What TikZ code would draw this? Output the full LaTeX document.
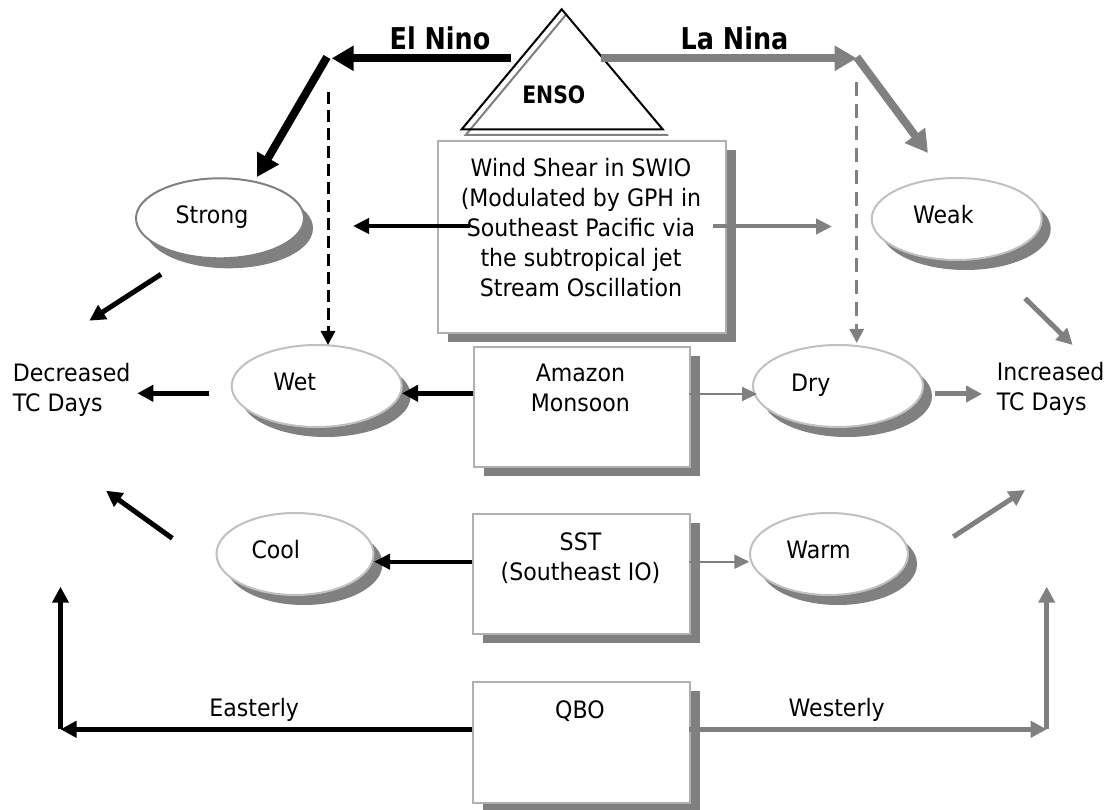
\documentclass[tikz,border=0pt]{standalone}
\usepackage{fontspec}
\setmainfont{DejaVu Sans}[FakeStretch=0.92]
\newfontfamily\hdfont{DejaVu Sans}[FakeStretch=0.85]
\usetikzlibrary{arrows.meta,shapes.geometric,shadows}
\definecolor{shd}{HTML}{808080}
\definecolor{lbrd}{HTML}{C0C0C0}
\definecolor{bbrd}{HTML}{B0B0B0}
\begin{document}
\begin{tikzpicture}[x=1pt,y=-1pt,
  every node/.style={font=\fontsize{24}{30}\selectfont},
  txt/.style={inner sep=0pt, align=center},
  oval/.style={ellipse, draw=lbrd, line width=2pt, fill=white, inner sep=0pt,
     minimum width=170pt, minimum height=82pt,
     general shadow={fill=shd, shadow xshift=9pt, shadow yshift=-10pt}},
  panel/.style={rectangle, draw=bbrd, line width=2pt, fill=white, inner sep=0pt, anchor=north west,
     general shadow={fill=shd, shadow xshift=10pt, shadow yshift=-9pt}},
  bigB/.style={line width=8pt, -{Triangle[length=22pt,width=24pt]}},
  bigG/.style={bigB, color=shd},
  medB/.style={line width=5pt, -{Triangle[length=16pt,width=16pt]}},
  medG/.style={medB, color=shd},
  midB/.style={line width=4pt, -{Triangle[length=16pt,width=15pt]}},
  midG/.style={midB, color=shd},
  thinG/.style={line width=2pt, color=shd, -{Triangle[length=15pt,width=14pt]}},
  dashB/.style={line width=3pt, dash pattern=on 12pt off 6pt, -{Triangle[length=14pt,width=14pt]}},
  dashG/.style={dashB, color=shd, dash pattern=on 14pt off 8pt},
  headfont/.style={font=\hdfont\bfseries\fontsize{30}{36}\selectfont}
]
\fill[white] (0,0) rectangle (1112,810);
\useasboundingbox (0,0) rectangle (1112,810);

% ENSO triangle
\draw[shd, line width=2pt] (565.7,15) -- (465.7,135) -- (668.3,135);
\draw[black, line width=2pt, line join=miter] (561.7,9.3) -- (461.7,129.3) -- (662.7,129.3) -- cycle;
\node[txt, anchor=base, font=\hdfont\bfseries\fontsize{24}{30}\selectfont] (enso) at (553.8,104) {ENSO};
\node[txt, anchor=base, headfont] (elnino) at (440,50) {El Nino};
\node[txt, anchor=base, headfont] (lanina) at (734.5,50) {La Nina};

% boxes
\node[panel, minimum width=288pt, minimum height=192pt] (wind) at (437,140) {};
\node[panel, minimum width=216pt, minimum height=120pt] (amazon) at (473,346) {};
\node[panel, minimum width=217pt, minimum height=120pt] (sst) at (472,513) {};
\node[panel, minimum width=217pt, minimum height=121pt] (qbo) at (472,681) {};

% ellipses
\node[oval, draw=shd, minimum width=168pt, minimum height=80pt] (strong) at (220,218.3) {};
\node[oval] (weak) at (956.7,219) {};
\node[oval] (wet) at (316.7,386) {};
\node[oval] (dry) at (838,386) {};
\node[oval, minimum width=157pt] (cool) at (295,554) {};
\node[oval, minimum width=158pt] (warm) at (829,554) {};

% texts
\node[txt, anchor=base] (tstrong) at (212,223.3) {Strong};
\node[txt, anchor=base] (tweak) at (943.3,223.3) {Weak};
\node[txt, anchor=base] (twet) at (294.7,391) {Wet};
\node[txt, anchor=base] (tdry) at (810.8,391.7) {Dry};
\node[txt, anchor=base] (tcool) at (275.8,558.3) {Cool};
\node[txt, anchor=base] (twarm) at (818.5,558.3) {Warm};
\node[txt, anchor=north] (twind) at (581,158.5) {Wind Shear in SWIO\\(Modulated by GPH in\\Southeast Pacific via\\the subtropical jet\\Stream Oscillation};
\node[txt, anchor=north] (tamazon) at (580.4,364.2) {Amazon\\Monsoon};
\node[txt, anchor=north] (tsst) at (580.5,532.5) {SST\\(Southeast IO)};
\node[txt, anchor=base] (tqbo) at (580,718.3) {QBO};
\node[txt, anchor=north west, align=left] (dec) at (12.7,363.5) {Decreased\\TC Days};
\node[txt, anchor=north west, align=left] (inc) at (996.7,362.5) {Increased\\TC Days};
\node[txt, anchor=base] (east) at (254.2,716.7) {Easterly};
\node[txt, anchor=base] (west) at (836.7,716.7) {Westerly};

% connector end points
\coordinate (elnS) at (511,58.3);
\coordinate (elnT) at (331.7,58.3);
\coordinate (elnC) at (327,57);
\coordinate (strongT) at (257,177);
\coordinate (dashBs) at (328,92);
\coordinate (wetTop) at (328,345);
\coordinate (lanS) at (601,58.3);
\coordinate (lanT) at (856.7,58.3);
\coordinate (lanC) at (856.7,57);
\coordinate (weakT) at (928,153);
\coordinate (dashGs) at (856.7,82);
\coordinate (dryTop) at (856.7,343);
\coordinate (windL) at (470,226);
\coordinate (windLT) at (353,226);
\coordinate (windR) at (713,226.5);
\coordinate (windRT) at (832,226.5);
\coordinate (amzL) at (473,393.3);
\coordinate (wetR) at (402,393.3);
\coordinate (amzR) at (689,394);
\coordinate (dryL) at (757,394);
\coordinate (wetL) at (209.3,393.3);
\coordinate (decR) at (137.3,393.3);
\coordinate (dryR) at (935,394);
\coordinate (incL) at (982,394);
\coordinate (strongBL) at (161,274.3);
\coordinate (decTop) at (89.3,320.7);
\coordinate (weakBR) at (1025,298.3);
\coordinate (incTop) at (1072.7,345);
\coordinate (coolUL) at (172.3,538.3);
\coordinate (decBot) at (106,490.7);
\coordinate (warmUR) at (953.3,536.7);
\coordinate (incBot) at (1025,490);
\coordinate (sstL) at (472,561.7);
\coordinate (coolR) at (374,561.7);
\coordinate (sstR) at (689,561.7);
\coordinate (warmL) at (749.3,561.7);
\coordinate (qboL) at (472,729.3);
\coordinate (eastC) at (60.5,729.3);
\coordinate (eastUp) at (60.5,586.7);
\coordinate (qboR) at (689,729.3);
\coordinate (westC) at (1046.7,729.3);
\coordinate (westUp) at (1046.7,586.7);

% connectors
\draw[bigB] (elnS) -- (elnT);
\draw[bigB] (elnC) -- (strongT);
\draw[dashB] (dashBs) -- (wetTop);
\draw[bigG] (lanS) -- (lanT);
\draw[bigG] (lanC) -- (weakT);
\draw[dashG] (dashGs) -- (dryTop);
\draw[midB] (windL) -- (windLT);
\draw[midG] (windR) -- (windRT);
\draw[medB] (amzL) -- (wetR);
\draw[thinG] (amzR) -- (dryL);
\draw[medB] (wetL) -- (decR);
\draw[medG] (dryR) -- (incL);
\draw[medB] (strongBL) -- (decTop);
\draw[medG] (weakBR) -- (incTop);
\draw[medB] (coolUL) -- (decBot);
\draw[medG] (warmUR) -- (incBot);
\draw[midB] (sstL) -- (coolR);
\draw[thinG] (sstR) -- (warmL);
\draw[medB] (qboL) -- (eastC);
\draw[medB] (eastC) -- (eastUp);
\draw[medG] (qboR) -- (westC);
\draw[medG] (westC) -- (westUp);
\end{tikzpicture}
\end{document}
